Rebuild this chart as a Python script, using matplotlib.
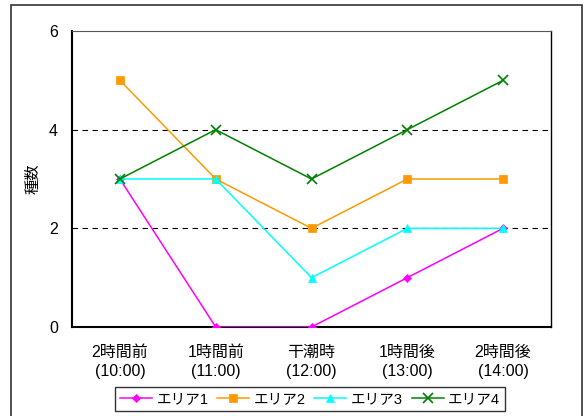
import matplotlib
matplotlib.use("Agg")
import matplotlib.pyplot as plt
from matplotlib.patches import Rectangle

plt.rcParams['font.family'] = ['Liberation Sans', 'Noto Sans CJK JP', 'DejaVu Sans']

categories = ["2時間前\n(10:00)", "1時間前\n(11:00)", "干潮時\n(12:00)", "1時間後\n(13:00)", "2時間後\n(14:00)"]
area1 = [3, 0, 0, 1, 2]
area2 = [5, 3, 2, 3, 3]
area3 = [3, 3, 1, 2, 2]
area4 = [3, 4, 3, 4, 5]
series_names = ["エリア1", "エリア2", "エリア3", "エリア4"]
y_ticks = [0, 2, 4, 6]

fig = plt.figure(figsize=(5.85, 4.16), dpi=100)
ax = fig.add_axes([72 / 585, 1 - 327 / 416, (551 - 72) / 585, (327 - 31) / 416])

# outer chart frame
fig.patches.append(Rectangle((11 / 585, -0.01), (582 - 11) / 585, 1 - 5 / 416 + 0.01,
                             transform=fig.transFigure, fill=False,
                             edgecolor='#333333', linewidth=1.2))

x = list(range(len(categories)))
styles = [
    (area1, '#FF00FF', 'D', 4),
    (area2, '#FF9900', 's', 5.5),
    (area3, '#00FFFF', '^', 6),
    (area4, '#008000', 'x', 7),
]
for (vals, color, marker, ms), name in zip(styles, series_names):
    ax.plot(x, vals, color=color, marker=marker, markersize=ms, linewidth=1.1,
            label=name, markeredgewidth=1.2 if marker == 'x' else 0.5, zorder=3)

ax.set_xlim(-0.5, 4.5)
ax.set_ylim(0, 6)
ax.set_yticks(y_ticks)
ax.set_xticks(x)
ax.set_xticklabels(categories, fontsize=11.5, linespacing=1.35)
ax.tick_params(axis='both', length=0, labelsize=11.5)
ax.tick_params(axis='x', pad=13)
ax.tick_params(axis='y', pad=10)
for t in [2, 4]:
    ax.axhline(t, color='black', linestyle=(0, (5, 4)), linewidth=0.8, zorder=1)
ax.spines['top'].set_linestyle((0, (5, 1)))
ax.spines['top'].set_color('#555555')
for s in ['left', 'bottom', 'right']:
    ax.spines[s].set_color('black')
    ax.spines[s].set_linewidth(1.0)
ax.spines['left'].set_linewidth(1.5)
ax.spines['bottom'].set_linewidth(1.5)

ax.set_ylabel("種数", fontsize=11, labelpad=6)

leg = fig.legend(loc='center', bbox_to_anchor=(310 / 585, 1 - 399 / 416), ncol=4,
                 fontsize=10.5, frameon=True, fancybox=False, edgecolor='black',
                 handlelength=2.2, columnspacing=0.6, handletextpad=0.3,
                 borderpad=0.35, borderaxespad=0)
leg.get_frame().set_linewidth(1.0)

fig.savefig("out.png", dpi=100)
